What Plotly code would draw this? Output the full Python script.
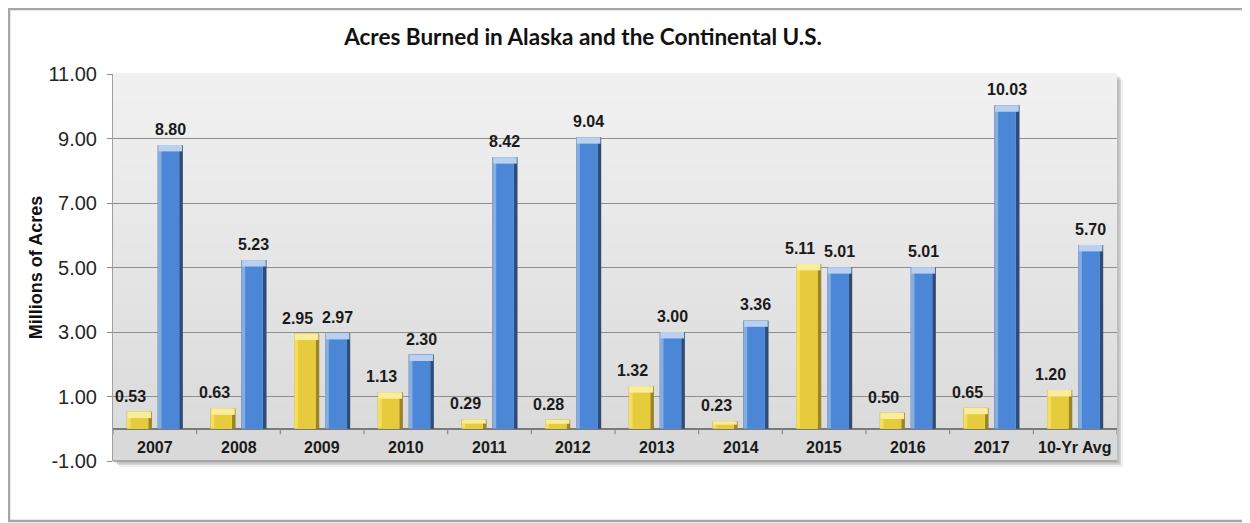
import plotly.graph_objects as go

categories = ["2007", "2008", "2009", "2010", "2011", "2012", "2013", "2014",
              "2015", "2016", "2017", "10-Yr Avg"]
alaska = [0.53, 0.63, 2.95, 1.13, 0.29, 0.28, 1.32, 0.23, 5.11, 0.50, 0.65, 1.20]
continental = [8.80, 5.23, 2.97, 2.30, 8.42, 9.04, 3.00, 3.36, 5.01, 5.01, 10.03, 5.70]
y_ticks = [-1, 1, 3, 5, 7, 9, 11]
y_tick_text = [f"{v:.2f}" for v in y_ticks]

W = 0.30
series = [
    # values, offset, right-face, left-face, body, cap, label x-shift
    (alaska, -0.335, "#9a8424", "#f3de62", "#e6cb3c", "#f9ec9c", -9),
    (continental, 0.035, "#2f4c78", "#86addf", "#4c86d6", "#b9d0ef", 0),
]

fig = go.Figure()
annotations = []
for vals, off, c_right, c_left, c_body, c_cap, lshift in series:
    fig.add_trace(go.Bar(
        x=categories, y=vals, offset=off, width=W,
        marker=dict(color=c_right, line=dict(width=0)),
        showlegend=False, hoverinfo="skip"))
    fig.add_trace(go.Bar(
        x=categories, y=vals, offset=off, width=W * 0.86,
        marker=dict(color=c_left, line=dict(width=0)),
        showlegend=False, hoverinfo="skip"))
    fig.add_trace(go.Bar(
        x=categories, y=vals, offset=off + W * 0.15, width=W * 0.70,
        marker=dict(color=c_body, line=dict(width=0)),
        showlegend=False, hoverinfo="skip"))
    caps = [min(0.2, v * 0.45) for v in vals]
    fig.add_trace(go.Bar(
        x=categories, y=caps, base=[v - c for v, c in zip(vals, caps)],
        offset=off + W * 0.03, width=W * 0.94,
        marker=dict(color=c_cap, line=dict(width=0)),
        showlegend=False, hoverinfo="skip"))
    # data labels above each bar
    for i, v in enumerate(vals):
        annotations.append(dict(
            x=i + off + W / 2, y=v, xref="x", yref="y", text=f"{v:.2f}",
            showarrow=False, xanchor="center", yanchor="bottom",
            xshift=lshift, yshift=5,
            font=dict(family="Liberation Sans, Arial", size=16,
                      color="#1a1a1a", weight="bold")))

# page offset of the figure (body margin)
OFF = 8
FW, FH = 1242, 515
L, T = 113 - OFF, 74 - OFF
PW, PH = 1004, 387
R, B = FW - L - PW, FH - T - PH

def px_x(p):  # page pixel -> paper x
    return (p - OFF - L) / PW

def px_y(p):  # page pixel -> paper y
    return (T + PH - (p - OFF)) / PH

shapes = []
# outer frame
shapes.append(dict(type="rect", xref="paper", yref="paper",
                   x0=px_x(9), x1=px_x(1246), y0=px_y(521), y1=px_y(9),
                   line=dict(color="#a6a6a6", width=2.5), fillcolor="white",
                   layer="below"))
# plot area shadow
for d, a in [(6, 0.10), (4, 0.15), (2.5, 0.2)]:
    shapes.append(dict(type="rect", xref="paper", yref="paper",
                       x0=px_x(113 + d), x1=px_x(113 + PW + d),
                       y0=px_y(74 + PH + d), y1=px_y(74 + d),
                       line=dict(width=0), fillcolor=f"rgba(90,90,90,{a})",
                       layer="below"))
# gradient background of plot area (back wall)
zero_p = 1 / 12
nb = 40
for i in range(nb):
    t = i / (nb - 1)
    g = int(round(0xdb + (0xf1 - 0xdb) * t))
    shapes.append(dict(type="rect", xref="paper", yref="paper",
                       x0=0, x1=1, y0=zero_p + (1 - zero_p) * i / nb,
                       y1=zero_p + (1 - zero_p) * (i + 1) / nb + 0.002,
                       line=dict(width=0), fillcolor=f"rgb({g},{g},{g})",
                       layer="below"))
# floor front band
shapes.append(dict(type="rect", xref="paper", yref="paper",
                   x0=0, x1=1, y0=0, y1=zero_p,
                   line=dict(width=0), fillcolor="#d9d9d9", layer="below"))
# category boundary tick marks under the floor line
for i in range(len(categories) + 1):
    shapes.append(dict(type="line", xref="x", yref="y",
                       x0=i - 0.5, x1=i - 0.5, y0=0, y1=-0.17,
                       line=dict(color="#8a8a8a", width=1.2)))
# bottom edge
shapes.append(dict(type="line", xref="paper", yref="paper",
                   x0=0, x1=1, y0=0, y1=0,
                   line=dict(color="#9a9a9a", width=1.5)))

# category labels on the floor's front face (positioned by category index)
annotations += [dict(x=i, y=-0.58, xref="x", yref="y", text=c, showarrow=False,
                     xanchor="center", yanchor="middle",
                     font=dict(family="Liberation Sans, Arial", size=16,
                               color="#1a1a1a", weight="bold"))
                for i, c in enumerate(categories)]

fig.update_layout(
    width=FW, height=FH,
    margin=dict(l=L, r=R, t=T, b=B, autoexpand=False),
    paper_bgcolor="white", plot_bgcolor="rgba(0,0,0,0)",
    barmode="overlay",
    title=dict(text="Acres Burned in Alaska and the Continental U.S.",
               x=px_x(583), xref="paper", xanchor="center",
               y=1 - (37 - OFF) / FH, yanchor="middle",
               font=dict(family="Lato", size=22.5, color="#111111", weight="bold")),
    shapes=shapes,
    annotations=annotations,
    font=dict(family="Liberation Sans, Arial", color="#222222"),
    xaxis=dict(type="category", categoryorder="array", categoryarray=categories,
               range=[-0.5, len(categories) - 0.5],
               showgrid=False, zeroline=False, showline=False, ticks="",
               showticklabels=False, fixedrange=True),
    yaxis=dict(range=[-1, 11], tickmode="array", tickvals=y_ticks,
               ticktext=y_tick_text,
               ticks="outside", ticklen=5, tickcolor="#8a8a8a",
               tickfont=dict(size=20, color="#262626"),
               ticklabelstandoff=6,
               showgrid=True, gridcolor="#8f8f8f", gridwidth=1,
               zeroline=True, zerolinecolor="#7a7a7a", zerolinewidth=1.5,
               showline=True, linecolor="#a0a0a0", linewidth=1,
               title=dict(text="Millions of Acres", standoff=1,
                          font=dict(size=18, color="#111111", weight="bold")),
               fixedrange=True),
)

fig.write_html("out.html")
